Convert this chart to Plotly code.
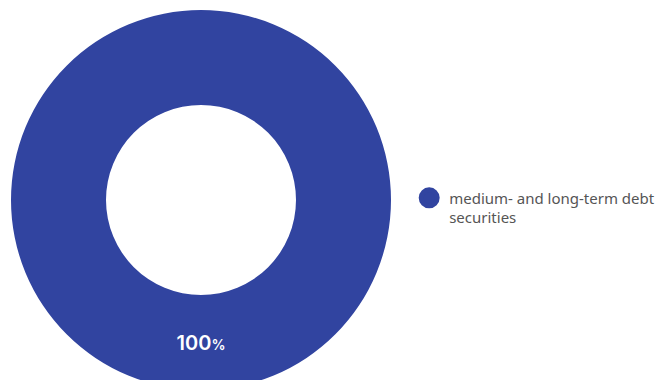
import plotly.graph_objects as go

labels = ['medium- and long-term debt<br>securities']
values = [100]
colors = ['#3144a0']

fig = go.Figure()
fig.add_trace(go.Pie(
    labels=labels,
    values=values,
    hole=0.5,
    sort=False,
    marker=dict(colors=colors),
    texttemplate='%{value}<span style="font-size:14px">%</span>',
    textposition='inside',
    insidetextorientation='horizontal',
    textfont=dict(family='Inter', size=20, color='white', weight=600),
    domain=dict(x=[0, 386 / 672], y=[0, 1]),
    showlegend=False,
    hoverinfo='skip',
))
# circle marker for the legend entry (pie legends only draw squares)
fig.add_trace(go.Scatter(
    x=[None], y=[None],
    mode='markers',
    name=labels[0],
    marker=dict(color=colors[0], size=16, line=dict(color=colors[0], width=5)),
))
fig.update_layout(
    width=672, height=400,
    margin=dict(l=0, r=0, t=2, b=18),
    paper_bgcolor='white',
    plot_bgcolor='white',
    xaxis=dict(visible=False),
    yaxis=dict(visible=False),
    legend=dict(
        x=0.597, y=0.48, xanchor='left', yanchor='middle',
        valign='top',
        font=dict(family='Noto Sans', size=15, color='#555555'),
    ),
)
fig.write_html('out.html')
